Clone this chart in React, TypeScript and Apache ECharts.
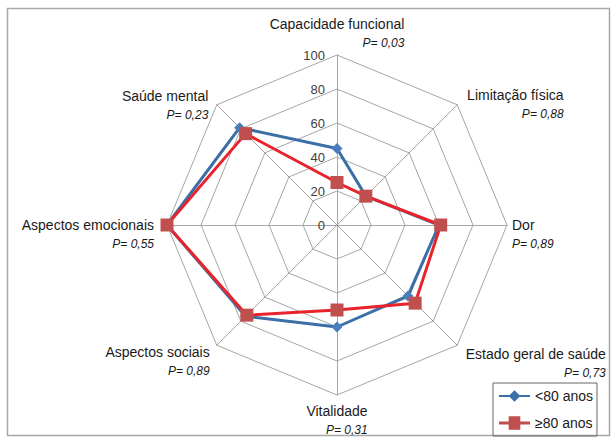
import React, { useEffect, useRef } from "react";
import * as echarts from "echarts";

// Categories in clockwise order starting at the top
const categories = [
  "Capacidade funcional",
  "Limitação física",
  "Dor",
  "Estado geral de saúde",
  "Vitalidade",
  "Aspectos sociais",
  "Aspectos emocionais",
  "Saúde mental",
];
const pValues = ["P= 0,03", "P= 0,88", "P= 0,89", "P= 0,73", "P= 0,31", "P= 0,89", "P= 0,55", "P= 0,23"];
const seriesNames = ["<80 anos", "≥80 anos"];
const under80 = [45, 24, 60, 59, 60, 76, 100, 81];
const over80 = [25, 24, 61, 65, 50, 75, 100, 76];
const tickMin = 0;
const tickMax = 100;
const tickSplit = 5;

const FONT = "Liberation Sans, Arial, sans-serif";
const BLUE_LINE = "#3b6fa8";
const BLUE_MARK = "#4a7ebb";
const RED_LINE = "#e8232b";
const RED_MARK = "#c0504d";

// ECharts radar runs counter-clockwise: reorder so it reads clockwise
const ecOrder = [0, 7, 6, 5, 4, 3, 2, 1];
const reorder = (arr: number[]) => ecOrder.map((i) => arr[i]);
// label gap per category (clockwise order)
const nameGaps = [3, 14, 5, 12, 6, 10, 13, 12];

export default function App() {
  const ref = useRef<HTMLDivElement>(null);
  useEffect(() => {
    document.body.style.margin = "0";
    const chart = echarts.init(ref.current!, null, { renderer: "svg" });
    const indicator = ecOrder.map((i, k) => {
      const o: any = { name: categories[i], min: tickMin, max: tickMax, nameGap: nameGaps[i] };
      if (k === 0) {
        o.axisLabel = {
          show: true,
          color: "#404040",
          fontSize: 13,
          fontFamily: FONT,
          margin: 12,
        };
      }
      return o;
    });
    chart.setOption({
      animation: false,
      backgroundColor: "#ffffff",
      graphic: [
        {
          type: "rect",
          shape: { x: 7.5, y: 8.5, width: 602, height: 427 },
          style: { fill: "none", stroke: "#a8a8a8", lineWidth: 1.5 },
          silent: true,
        },
      ],
      legend: {
        orient: "vertical",
        left: 493,
        top: 383,
        padding: [6, 4, 6, 6],
        itemGap: 13,
        itemWidth: 31,
        itemHeight: 14,
        borderColor: "#666666",
        borderWidth: 1,
        textStyle: { fontSize: 14, fontFamily: FONT, color: "#1a1a1a" },
        data: [
          {
            name: seriesNames[0],
            icon: "path://M0,6 L11,6 L16,1 L21,6 L32,6 L32,8 L21,8 L16,13 L11,8 L0,8 Z",
            itemStyle: { color: BLUE_LINE },
          },
          {
            name: seriesNames[1],
            icon: "path://M0,5.5 L10,5.5 L10,0 L22,0 L22,5.5 L32,5.5 L32,8.5 L22,8.5 L22,14 L10,14 L10,8.5 L0,8.5 Z",
            itemStyle: { color: RED_MARK },
          },
        ],
      },
      radar: {
        center: [337, 225],
        radius: 170,
        startAngle: 90,
        shape: "polygon",
        splitNumber: tickSplit,
        nameGap: 6,
        axisLabel: { show: false },
        axisTick: { show: false },
        axisLine: { lineStyle: { color: "#a6a6a6", width: 1 } },
        splitLine: { lineStyle: { color: "#a6a6a6", width: 1 } },
        splitArea: { show: false },
        axisName: {
          color: "#1a1a1a",
          fontFamily: FONT,
          formatter: (name: string) => {
            const i = categories.indexOf(name);
            const side = i !== 0 && i !== 4;
            return (side ? "{b| }\n" : "") + `{n|${name}}\n{p|${pValues[i]}}`;
          },
          rich: {
            b: { fontSize: 14, lineHeight: 19, fontFamily: FONT },
            n: { fontSize: 14, lineHeight: 19, align: "left", fontFamily: FONT, color: "#1a1a1a" },
            p: { fontSize: 12, lineHeight: 19, align: "right", fontStyle: "italic", fontFamily: FONT, color: "#1a1a1a" },
          },
        },
        indicator,
      },
      series: [
        {
          type: "radar",
          symbol: "diamond",
          symbolSize: 11,
          data: [
            {
              name: seriesNames[0],
              value: reorder(under80),
              lineStyle: { color: BLUE_LINE, width: 3 },
              itemStyle: { color: BLUE_MARK },
            },
          ],
          z: 3,
        },
        {
          type: "radar",
          symbol: "rect",
          symbolSize: 13,
          data: [
            {
              name: seriesNames[1],
              value: reorder(over80),
              lineStyle: { color: RED_LINE, width: 3 },
              itemStyle: { color: RED_MARK },
            },
          ],
          z: 4,
        },
      ],
    });
    return () => chart.dispose();
  }, []);
  return <div ref={ref} style={{ width: 616, height: 446 }} />;
}
